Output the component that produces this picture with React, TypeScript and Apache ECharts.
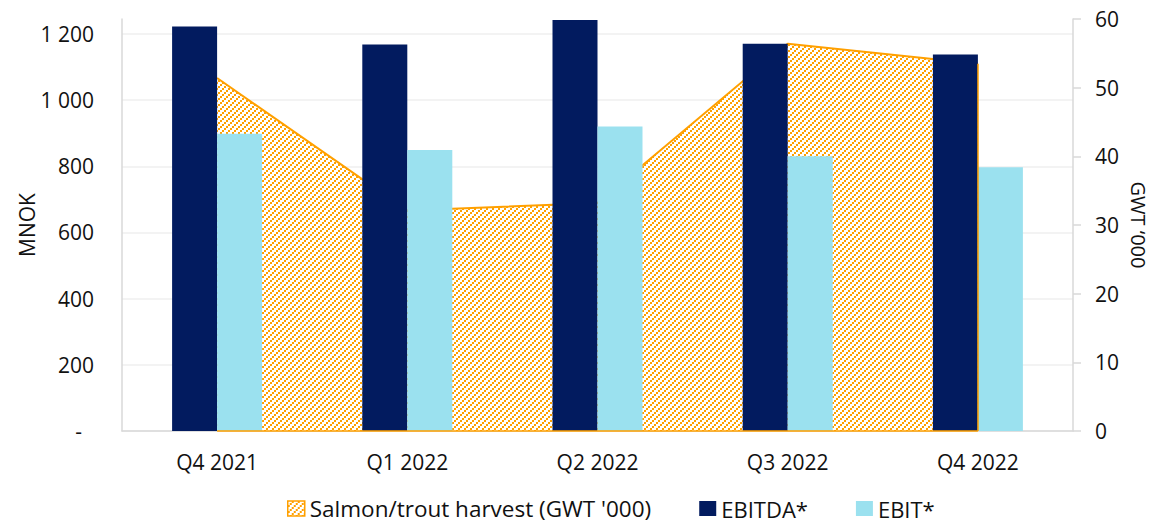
import React, { useEffect, useRef } from 'react';
import * as echarts from 'echarts';

// Quarterly figures
const categories = ['Q4 2021', 'Q1 2022', 'Q2 2022', 'Q3 2022', 'Q4 2022'];
const ebitda = [1222, 1168, 1242, 1170, 1138]; // MNOK
const ebit = [898, 849, 920, 830, 797]; // MNOK
const harvest = [51.4, 32.1, 33.2, 56.4, 53.5]; // GWT '000

// Tick labels
const leftTickLabels = ['-', '200', '400', '600', '800', '1 000', '1 200'];
const rightTickLabels = ['0', '10', '20', '30', '40', '50', '60'];

const HARVEST_NAME = "Salmon/trout harvest (GWT '000)";
const NAVY = '#021B5F';
const SKY = '#9BE1EF';
const ORANGE = '#FFA000';
const AXIS_GRAY = '#D9D9D9';
const GRID_GRAY = '#EFEFEF';
const TEXT = '#111111';
const FONT = '"Open Sans", "Noto Sans", sans-serif';
const WIDTH = 1153;
const HEIGHT = 523;

// Diagonal dotted hatch used for the harvest area
function makeHatch(): HTMLCanvasElement {
  const c = document.createElement('canvas');
  c.width = 6;
  c.height = 6;
  const ctx = c.getContext('2d')!;
  ctx.fillStyle = '#ffffff';
  ctx.fillRect(0, 0, 6, 6);
  ctx.fillStyle = ORANGE;
  ctx.fillRect(0, 4, 2, 2);
  ctx.fillRect(2, 2, 2, 2);
  ctx.fillRect(4, 0, 2, 2);
  return c;
}

export default function App() {
  const ref = useRef<HTMLDivElement>(null);

  useEffect(() => {
    if (!ref.current) return;
    const chart = echarts.init(ref.current, null, { renderer: 'svg', width: WIDTH, height: HEIGHT });
    const hatch = makeHatch();
    const pattern: any = { image: hatch, repeat: 'repeat', imageWidth: 6, imageHeight: 6 };

    chart.setOption({
      animation: false,
      textStyle: { fontFamily: FONT, color: TEXT },
      grid: { left: 122, right: 80, top: 19, bottom: 92, containLabel: false, outerBoundsMode: 'none' },
      legend: {
        left: 287,
        top: 497,
        padding: 0,
        itemWidth: 17,
        itemHeight: 15,
        itemGap: 48,
        textStyle: {
          fontSize: 22,
          lineHeight: 20,
          color: TEXT,
          fontFamily: FONT,
          rich: {
            h: { fontSize: 22.5, lineHeight: 20, color: TEXT, fontFamily: FONT },
            n: { fontSize: 22, lineHeight: 20, color: TEXT, fontFamily: FONT },
          },
        },
        formatter: (name: string) => (name === HARVEST_NAME ? `{h|${name}}` : `{n|${name}}`),
        data: [
          { name: HARVEST_NAME, icon: 'rect', itemStyle: { color: pattern, borderColor: ORANGE, borderWidth: 1.5 } },
          { name: 'EBITDA*', icon: 'rect' },
          { name: 'EBIT*', icon: 'rect' },
        ],
      },
      xAxis: {
        type: 'category',
        data: categories,
        axisLine: { show: true, lineStyle: { color: AXIS_GRAY, width: 1.5 } },
        axisTick: { show: false },
        axisLabel: { margin: 20, fontSize: 21, color: TEXT, fontFamily: FONT },
        splitLine: { show: false },
      },
      yAxis: [
        {
          type: 'value',
          position: 'left',
          min: 0,
          max: 1245,
          interval: 200,
          name: 'MNOK',
          nameLocation: 'middle',
          nameRotate: 90,
          nameGap: 86,
          nameMoveOverlap: false,
          nameTextStyle: { fontSize: 21, lineHeight: 18, color: TEXT, fontFamily: FONT },
          axisLine: { show: true, lineStyle: { color: AXIS_GRAY, width: 1.5 } },
          axisTick: { show: false },
          axisLabel: {
            margin: 28,
            fontSize: 21,
            color: TEXT,
            fontFamily: FONT,
            showMaxLabel: false,
            formatter: (v: number) => {
              if (v % 200 !== 0) return '';
              const s = leftTickLabels[v / 200] ?? '';
              return s === '-' ? '{d|-}' : s;
            },
            rich: { d: { fontSize: 21, color: TEXT, fontFamily: FONT, padding: [0, 12, 0, 0] } },
          },
          splitLine: { show: true, showMaxLine: false, lineStyle: { color: GRID_GRAY, width: 1.5 } },
        },
        {
          type: 'value',
          position: 'right',
          min: 0,
          max: 60,
          interval: 10,
          name: 'GWT \u2018000',
          nameLocation: 'middle',
          nameRotate: -90,
          nameGap: 57,
          nameMoveOverlap: false,
          nameTextStyle: { fontSize: 20, lineHeight: 17, color: TEXT, fontFamily: FONT },
          axisLine: { show: true, lineStyle: { color: AXIS_GRAY, width: 1.5 } },
          axisTick: { show: true, inside: false, length: 8, lineStyle: { color: AXIS_GRAY, width: 1.5 } },
          axisLabel: {
            margin: 22,
            fontSize: 21,
            color: TEXT,
            fontFamily: FONT,
            formatter: (v: number) => rightTickLabels[v / 10] ?? '',
          },
          splitLine: { show: false },
        },
      ],
      series: [
        {
          name: HARVEST_NAME,
          type: 'line',
          yAxisIndex: 1,
          data: harvest,
          symbol: 'none',
          z: 1,
          lineStyle: { color: ORANGE, width: 2 },
          itemStyle: { color: ORANGE },
          areaStyle: { color: pattern, opacity: 1 },
          markLine: {
            silent: true,
            symbol: 'none',
            label: { show: false },
            lineStyle: { color: ORANGE, width: 1.5, type: 'solid' },
            data: [
              [{ coord: [categories[4], 0] }, { coord: [categories[4], harvest[4]] }],
              [{ coord: [categories[0], 0] }, { coord: [categories[4], 0] }],
            ],
          },
        },
        {
          name: 'EBITDA*',
          type: 'bar',
          yAxisIndex: 0,
          data: ebitda,
          barWidth: 45,
          barGap: '0%',
          z: 3,
          itemStyle: { color: NAVY },
        },
        {
          name: 'EBIT*',
          type: 'bar',
          yAxisIndex: 0,
          data: ebit,
          barWidth: 45,
          barGap: '0%',
          z: 3,
          itemStyle: { color: SKY },
        },
      ],
    });

    return () => chart.dispose();
  }, []);

  return (
    <div
      ref={ref}
      style={{ position: 'fixed', left: 0, top: 0, width: WIDTH, height: HEIGHT, background: '#ffffff' }}
    />
  );
}
